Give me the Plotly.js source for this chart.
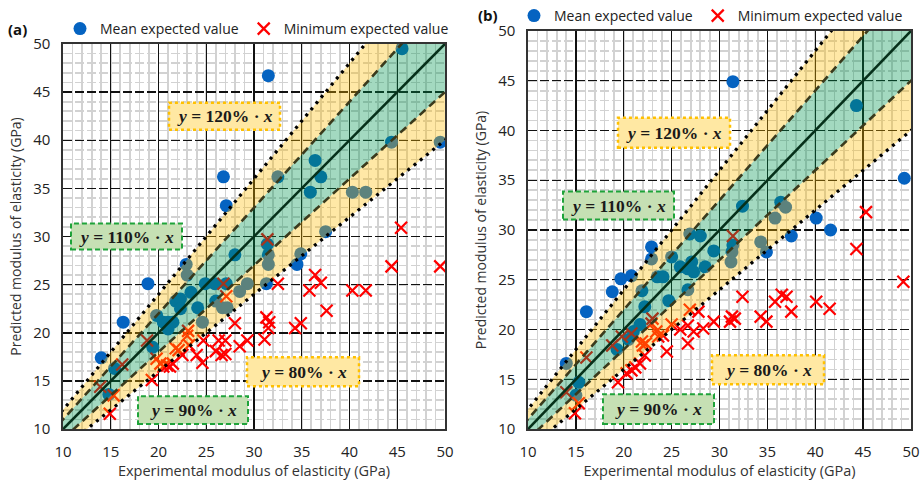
<!DOCTYPE html>
<html><head><meta charset="utf-8">
<script src="https://cdn.plot.ly/plotly-3.0.1.min.js"></script>
<style>html,body{margin:0;padding:0;background:#fff}#chart{width:921px;height:481px}</style>
</head><body><div id="chart"></div>
<script>
// ---------- data ----------
const meanAX = [45.5,31.5,44.4,49.5,36.4,26.8,32.5,37.0,35.9,40.3,41.7,27.1,37.5,31.4,28.0,31.5,34.9,34.5,31.5,22.9,23.0,18.9,24.9,25.9,27.1,29.3,31.3,23.4,28.5,21.8,22.3,26.0,22.3,24.1,26.7,27.2,19.8,20.5,21.0,21.5,21.0,24.6,16.3,19.4,14.0,15.4,14.8];
const meanAY = [49.5,46.7,39.8,39.8,37.9,36.2,36.2,36.2,34.6,34.6,34.6,33.2,30.5,29.2,28.1,28.1,28.2,27.1,27.1,27.1,26.0,25.1,25.1,25.1,25.1,25.1,25.1,24.2,24.3,23.3,23.5,23.3,22.5,22.6,22.6,22.6,21.8,21.1,21.1,21.1,20.4,21.1,21.1,18.5,17.4,16.3,13.6];
const minAX = [45.4,31.4,44.4,49.5,36.4,37.0,32.5,26.8,35.8,40.3,41.7,27.1,37.6,31.3,31.6,31.5,34.3,34.9,28.0,31.1,24.7,26.3,27.0,29.3,28.5,26.0,27.0,26.6,24.0,24.6,22.5,18.8,23.1,23.0,23.2,21.8,22.1,19.8,20.2,20.5,20.9,21.2,21.5,19.3,16.2,13.9,15.3,14.9];
const minAY = [30.9,29.7,26.9,26.9,26.0,25.2,25.1,25.1,24.4,24.4,24.4,23.8,22.3,21.6,21.1,20.5,20.5,21.0,21.0,19.3,19.2,19.2,19.2,19.2,18.6,18.1,17.8,17.7,17.7,16.9,17.7,19.2,20.2,19.7,18.7,18.4,18.2,17.3,16.8,16.5,16.6,16.5,16.8,15.1,16.7,14.4,13.5,11.6];

const meanBX = [31.4,44.3,49.3,32.4,36.4,36.9,35.8,40.1,41.6,37.5,34.3,34.9,26.9,28.0,29.4,31.4,31.3,31.2,27.1,25.9,26.7,28.5,25.0,26.7,24.7,22.9,22.9,19.7,20.8,18.8,16.1,14.0,15.3,15.0,19.3,20.5,21.0,21.7,22.2,21.9,23.5,24.1,27.3];
const meanBY = [44.9,42.5,35.2,32.4,32.8,32.3,31.2,31.2,30.0,29.4,28.8,27.8,29.6,29.4,27.9,28.5,27.8,26.8,26.8,26.3,26.1,26.3,27.3,24.0,22.9,28.3,27.1,25.1,25.4,23.8,21.8,16.6,14.7,13.4,18.0,19.0,19.8,20.5,22.3,23.9,25.3,25.3,25.8];
const minBX = [45.3,31.4,44.3,49.2,32.4,35.8,36.5,37.0,40.1,41.5,37.5,34.3,34.9,31.3,31.1,31.6,29.4,28.3,26.9,27.8,26.7,27.3,25.9,26.7,25.0,24.5,23.0,22.9,23.4,23.6,24.1,20.8,19.8,18.8,21.9,22.0,22.3,22.2,21.7,21.2,20.8,20.3,19.4,16.1,14.0,15.3,14.9];
const minBY = [31.8,29.4,28.1,24.8,23.3,22.8,23.5,23.3,22.8,22.1,21.8,21.3,20.8,21.3,20.8,21.1,20.8,20.1,22.0,21.8,20.4,19.8,20.0,18.6,20.5,17.8,21.1,20.6,19.8,19.3,19.4,19.6,19.3,18.4,18.8,18.4,18.6,17.4,16.6,16.2,15.9,15.6,14.7,17.2,13.7,12.6,11.6];

const ratios = [0.8, 0.9, 1.0, 1.1, 1.2];
const axisRange = [10, 50];
const tickVals = [10, 15, 20, 25, 30, 35, 40, 45, 50];
const seriesNames = ['Mean expected value', 'Minimum expected value'];
const panelLabels = ['(a)', '(b)'];
const boxPercents = ['120%', '110%', '80%', '90%'];
const xTitle = 'Experimental modulus of elasticity (GPa)';
const yTitle = 'Predicted modulus of elasticity (GPa)';

// ---------- build ----------
const FONT = 'Open Sans, sans-serif';
const blue = '#0563c1', red = '#ff0000';
const ext = [axisRange[0] - 5, axisRange[1] + 5];
const traces = [];

function panel(xa, ya, mx, my, nx, ny, legendId) {
  traces.push({type:'scatter', mode:'markers', x:mx, y:my, xaxis:xa, yaxis:ya, name:seriesNames[0],
    legend:legendId, marker:{color:blue, size:13}});
  traces.push({type:'scatter', mode:'markers', x:nx, y:ny, xaxis:xa, yaxis:ya, name:seriesNames[1],
    legend:legendId, marker:{symbol:'x-thin', color:red, size:12, line:{color:red, width:2.2}}});
  const band = (r1, r2, col) => traces.push({type:'scatter', mode:'lines', xaxis:xa, yaxis:ya,
    x:[ext[0], ext[1], ext[1], ext[0], ext[0]],
    y:[r1*ext[0], r1*ext[1], r2*ext[1], r2*ext[0], r1*ext[0]],
    fill:'toself', fillcolor:col, line:{width:0}, showlegend:false, hoverinfo:'skip'});
  band(ratios[1], ratios[3], 'rgba(0,150,80,0.36)');
  band(ratios[3], ratios[4], 'rgba(255,190,0,0.35)');
  band(ratios[0], ratios[1], 'rgba(255,190,0,0.35)');
  ratios.forEach(r => {
    let line;
    if (r === 1) line = {color:'#06301a', width:2.6};
    else if (Math.abs(r-1) < 0.15) line = {color:'#3a3a1c', width:2.6, dash:'8px,5px'};
    else line = {color:'#000', width:3.2, dash:'3px,5px'};
    traces.push({type:'scatter', mode:'lines', xaxis:xa, yaxis:ya, x:ext, y:ext.map(v=>v*r),
      line:line, showlegend:false, hoverinfo:'skip'});
  });
}
panel('x','y', meanAX, meanAY, minAX, minAY, 'legend');
panel('x2','y2', meanBX, meanBY, minBX, minBY, 'legend2');

function xax(dom, anchor) {
  return {domain:dom, anchor:anchor, range:axisRange, tickvals:tickVals, showgrid:true,
    gridcolor:'#111', gridwidth:1.4, zeroline:false, showline:true, linecolor:'#333', linewidth:1.6, mirror:true,
    ticks:'', ticklabelstandoff:8, tickfont:{family:FONT, size:15, color:'#222'},
    minor:{dtick:1, showgrid:true, gridcolor:'#d2d2d2', gridwidth:1.7},
    title:{text:xTitle, font:{family:FONT, size:14.5, color:'#333'}, standoff:4}, automargin:false, fixedrange:true};
}
function yax(dom, anchor) {
  return {domain:dom, anchor:anchor, range:axisRange, tickvals:tickVals, showgrid:true,
    gridcolor:'#111', gridwidth:1.4, griddash:'9px,3px', zeroline:false, showline:true, linecolor:'#333', linewidth:1.6, mirror:true,
    ticks:'', ticklabelstandoff:8, tickfont:{family:FONT, size:15, color:'#222'},
    minor:{dtick:1, showgrid:true, gridcolor:'#d2d2d2', gridwidth:1.7},
    title:{text:yTitle, font:{family:FONT, size:14, color:'#333'}, standoff:8}, automargin:false, fixedrange:true};
}
const W = 921, H = 481;
const px = v => v / W, py = v => 1 - v / H;

const boxStyles = [
  {fill:'#ffe8a3', line:{color:'#ffc000', width:2.5, dash:'dot'}},
  {fill:'#c6e0b4', line:{color:'#1fa33a', width:2, dash:'5px,3px'}},
  {fill:'#ffe8a3', line:{color:'#ffc000', width:2.5, dash:'dot'}},
  {fill:'#c6e0b4', line:{color:'#1fa33a', width:2, dash:'5px,3px'}}
];
// box rectangles in pixel geometry [x0,y0,x1,y1]
const boxGeom = [
  [[169,102,280,129],[71,223,182,249],[247,357,359,386],[138,396,248,424]],
  [[618,117,730,147],[563,191,674,219],[712,355,824,384],[603,394,714,424]]
];
const shapes = [], annotations = [];
boxGeom.forEach(pg => pg.forEach((g, i) => {
  shapes.push({type:'rect', xref:'paper', yref:'paper', x0:px(g[0]), x1:px(g[2]), y0:py(g[3]), y1:py(g[1]),
    fillcolor:boxStyles[i].fill, line:boxStyles[i].line, layer:'above'});
  annotations.push({xref:'paper', yref:'paper', x:px((g[0]+g[2])/2), y:py((g[1]+g[3])/2), xanchor:'center', yanchor:'middle',
    showarrow:false, text:'<b><i>y</i> = ' + boxPercents[i] + ' · <i>x</i></b>',
    font:{family:'Liberation Serif, serif', size:17.5, color:'#1a1a1a'}});
}));
annotations.push({xref:'paper', yref:'paper', x:px(6), y:py(28), xanchor:'left', yanchor:'middle', showarrow:false,
  text:'<b>' + panelLabels[0] + '</b>', font:{family:FONT, size:15, color:'#111'}});
annotations.push({xref:'paper', yref:'paper', x:px(476), y:py(14), xanchor:'left', yanchor:'middle', showarrow:false,
  text:'<b>' + panelLabels[1] + '</b>', font:{family:FONT, size:15, color:'#111'}});

const legendBase = {orientation:'h', yanchor:'middle', bgcolor:'rgba(0,0,0,0)',
  font:{family:FONT, size:14, color:'#222'}, itemwidth:30, tracegroupgap:0};

const layout = {
  width:W, height:H, margin:{l:0, r:0, t:0, b:0}, paper_bgcolor:'#fff', plot_bgcolor:'#fff',
  xaxis:xax([px(63), px(445)], 'y'), yaxis:yax([py(429), py(43)], 'x'),
  xaxis2:xax([px(528), px(911)], 'y2'), yaxis2:yax([py(429), py(30)], 'x2'),
  legend:Object.assign({x:px(60), y:py(29), xanchor:'left'}, legendBase),
  legend2:Object.assign({x:px(908), y:py(15), xanchor:'right'}, legendBase),
  shapes:shapes, annotations:annotations, showlegend:true, hovermode:false
};
Plotly.newPlot('chart', traces, layout, {staticPlot:true, displayModeBar:false});
</script></body></html>
